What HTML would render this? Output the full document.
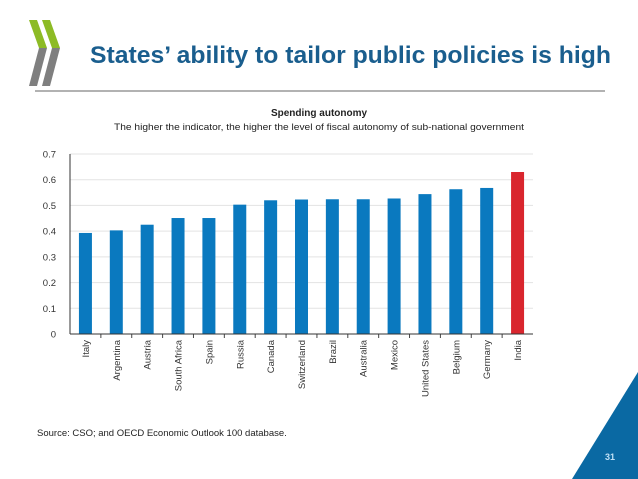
<!DOCTYPE html>
<html><head><meta charset="utf-8"><style>
body{margin:0;width:638px;height:479px;background:#fff;overflow:hidden;font-family:"Liberation Sans",sans-serif;position:relative}
</style></head><body>
<svg width="638" height="479" style="position:absolute;left:0;top:0">
  <g>
    <polygon points="29,20 37,20 47,48 39,48" fill="#8dbb25"/>
    <polygon points="39,48 47,48 37,86 29,86" fill="#7f7f7f"/>
    <polygon points="42,20 50,20 60,48 52,48" fill="#8dbb25"/>
    <polygon points="52,48 60,48 50,86 42,86" fill="#7f7f7f"/>
  </g>
  <text x="90" y="63" font-size="24" font-weight="bold" fill="#1a5e8e" textLength="521" lengthAdjust="spacingAndGlyphs">States’ ability to tailor public policies is high</text>
  <line x1="35" y1="91" x2="605" y2="91" stroke="#666" stroke-width="1"/>
  <text x="319" y="116" font-size="10" font-weight="bold" text-anchor="middle" fill="#222">Spending autonomy</text>
  <text x="319" y="130" font-size="9.5" text-anchor="middle" fill="#222" textLength="410" lengthAdjust="spacingAndGlyphs">The higher the indicator, the higher the level  of fiscal autonomy of sub-national government</text>
  <g id="chart"></g>
  <text x="37" y="436" font-size="9.5" fill="#222">Source: CSO; and OECD Economic Outlook 100 database.</text>
  <polygon points="638,372 638,479 572,479" fill="#0a69a3"/>
  <text x="615" y="460" font-size="9" font-weight="bold" fill="#bfe0f5" text-anchor="end">31</text>
</svg>
<script>
const categories=["Italy","Argentina","Austria","South Africa","Spain","Russia","Canada","Switzerland","Brazil","Australia","Mexico","United States","Belgium","Germany","India"];
const values=[0.393,0.403,0.425,0.451,0.451,0.503,0.520,0.523,0.524,0.524,0.527,0.544,0.563,0.568,0.630];
const ticks=[0,0.1,0.2,0.3,0.4,0.5,0.6,0.7];
const highlight=["India"];
const NS="http://www.w3.org/2000/svg";
const g=document.getElementById('chart');
const x0=70,x1=533,yb=334,yt=154,vmax=0.7;
const bw=(x1-x0)/categories.length;
const y=v=>yb-(v/vmax)*(yb-yt);
const xc=i=>x0+bw*(i+0.5);
function mk(t,a){const e=document.createElementNS(NS,t);for(const k in a)e.setAttribute(k,a[k]);g.appendChild(e);return e;}
ticks.forEach(t=>{
  if(t>0){const l=mk('line',{x1:x0,x2:x1,y1:y(t),y2:y(t),stroke:'#e3e3e3','stroke-width':1});
  
  }
  const tx=mk('text',{x:x0-14,y:y(t)+3.5,'font-size':9.5,fill:'#333','text-anchor':'end'});
  tx.textContent=String(t);
  
  
});
values.forEach((v,i)=>{
  const r=mk('rect',{x:xc(i)-6.5,y:y(v),width:13,height:yb-y(v),fill:highlight.includes(categories[i])?'#d9262e':'#0a79bf'});
  
  
  const tx=mk('text',{transform:`translate(${xc(i)+3.5},340) rotate(-90)`,'font-size':9.5,fill:'#333','text-anchor':'end'});
  tx.textContent=categories[i];
  
  
  if(i>0){const tk=mk('line',{x1:x0+bw*i,x2:x0+bw*i,y1:yb,y2:yb+4,stroke:'#444'});
  
  }
});
const ax=mk('line',{x1:x0,x2:x1,y1:yb,y2:yb,stroke:'#333','stroke-width':1});


const ay=mk('line',{x1:x0,x2:x0,y1:yt,y2:yb,stroke:'#333','stroke-width':1});


</script>
</body></html>
